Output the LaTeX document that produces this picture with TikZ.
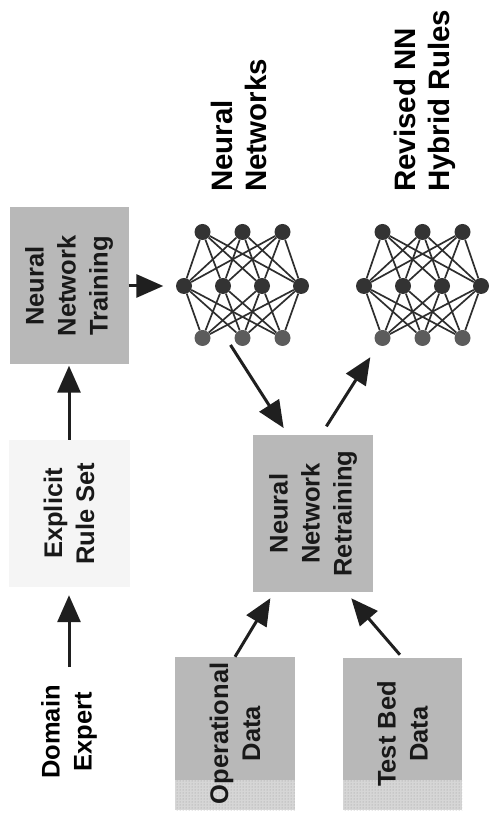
\documentclass[tikz,border=0pt]{standalone}
\usepackage{fontspec}
\setmainfont{Liberation Sans}
\usepackage{tikz}
\usetikzlibrary{calc,arrows.meta,backgrounds,patterns}
\definecolor{boxgray}{gray}{0.72}
\definecolor{pale}{gray}{0.96}
\definecolor{halftone}{gray}{0.84}
\newcommand{\boxfont}{\fontsize{25.5}{32}\selectfont\bfseries}
\newcommand{\lblfont}{\fontsize{29.5}{34}\selectfont\bfseries}
\tikzset{
  proc/.style={rectangle, fill=boxgray, text=black!90, align=center, font=\boxfont, inner sep=0pt},
  procw/.style={proc, fill=pale},
  datbox/.style={proc, fill=none},
  who/.style={align=center, font=\boxfont, inner sep=0pt},
  lbl/.style={align=left, font=\lblfont, inner sep=0pt, anchor=west},
  neuron/.style={circle, fill=black!80, inner sep=0pt, minimum size=16pt},
  neuronl/.style={neuron, fill=black!64},
  syn/.style={draw=black!82, line width=1.7pt},
  line/.style={draw=black!88, line width=3pt, -{Triangle[length=27pt,width=23pt]}},
  strip/.style={fill=halftone, postaction={pattern=dots, pattern color=black!40}},
}

\begin{document}
\begin{tikzpicture}[x=1pt,y=1pt]
  \useasboundingbox (0,0) rectangle (491,817);
  % drawn left to right, then turned on its side
  \begin{scope}[rotate=90, transform shape]
    \node[who] (expert) at (85,-69) {Domain\\Expert};
    \node[procw, minimum width=147pt, minimum height=121pt] (rules) at (303.5,-69) {Explicit\\Rule Set};
    \node[proc, minimum width=157pt, minimum height=119pt] (train) at (531,-69) {Neural\\Network\\Training};
    \node[proc, minimum width=157pt, minimum height=120pt] (retrain) at (303.5,-313) {Neural\\Network\\Retraining};
    \node[datbox, minimum width=153pt, minimum height=120pt] (opdata) at (83.5,-235) {Operational\\Data};
    \node[datbox, minimum width=152pt, minimum height=119pt] (testbed) at (83,-402.5) {Test Bed\\Data};

    \begin{scope}[on background layer]
      \foreach \b in {opdata,testbed}{
        \fill[boxgray] (\b.south west) rectangle (\b.north east);
        \path[strip] (\b.south west) rectangle ($(\b.north west)+(30,0)$);
      }
    \end{scope}

    % the two nets, 3-4-3
    \foreach \net/\c in {nn1/-242.5, nn2/-422.5}{
      \foreach \i in {1,2,3}{
        \node[neuron] (\net-a\i) at (585,{\c+40*(2-\i)}) {};
        \node[neuronl] (\net-c\i) at (479,{\c+40*(2-\i)}) {};
      }
      \foreach \j in {1,...,4}
        \node[neuron] (\net-b\j) at (531,{\c+39*(2.5-\j)}) {};
      \foreach \i in {1,2,3}
        \foreach \j in {1,...,4}{
          \draw[syn] (\net-a\i) -- (\net-b\j);
          \draw[syn] (\net-c\i) -- (\net-b\j);
        }
    }

    \node[lbl] (nnlbl) at ($(nn1-a2)+(40,4)$) {Neural\\Networks};
    \node[lbl] (revlbl) at ($(nn2-a2)+(40,-2)$) {Revised NN\\Hybrid Rules};

    \begin{scope}[every path/.style=line]
      \path[shorten <=18pt, shorten >=8pt] (expert) -- (rules);
      \path[shorten >=1pt] (rules) -- (train);
      \path[shorten >=12.5pt] (train) -- (nn1-b1);
      \path[shorten >=8pt] ($(nn1-c2)+(-7,12)$) -- ($(retrain.east)+(0,25)$);
      \path[shorten <=10pt, shorten >=14.5pt] ($(retrain.east)+(0,-8)$) -- (nn2-c1);
      \path[shorten >=7pt] (opdata.east) -- ($(retrain.west)+(0,39)$);
      \path[shorten <=4pt, shorten >=8pt] (testbed.east) -- ($(retrain.west)+(0,-33)$);
    \end{scope}
  \end{scope}
\end{tikzpicture}
\end{document}
